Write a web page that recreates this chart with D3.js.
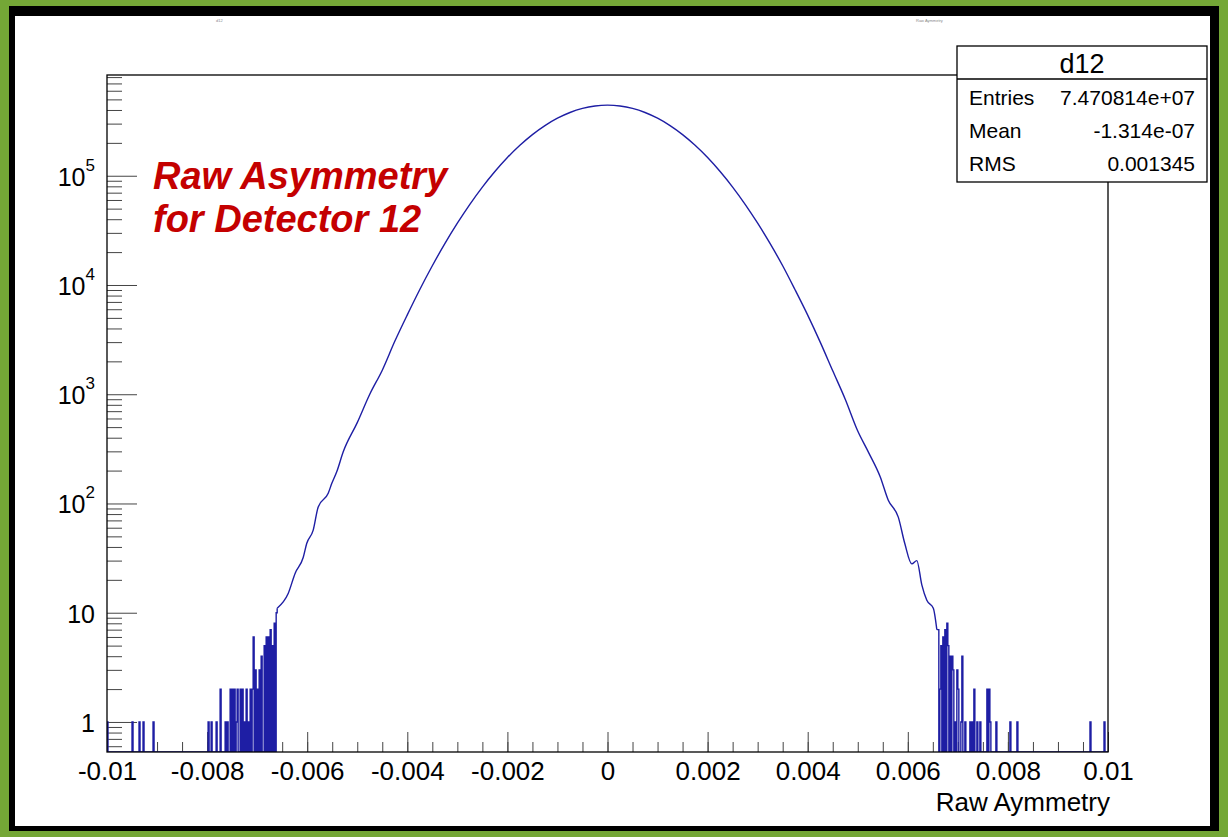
<!DOCTYPE html>
<html>
<head>
<meta charset="utf-8">
<script src="https://cdn.jsdelivr.net/npm/d3@7"></script>
<style>
html, body { margin: 0; padding: 0; background: #74a736; }
svg { display: block; font-family: "Liberation Sans", Arial, sans-serif; }
</style>
</head>
<body>
<svg id="chart" width="1228" height="837"></svg>
<script>
// histogram "d12": 1000 bins of 2e-5 from -0.01 to 0.01
var X_MIN = -0.01, X_MAX = 0.01, BIN_WIDTH = 2e-5;

// smooth part of the histogram
var curveX = [-0.0066, -0.00638, -0.00624, -0.00608, -0.00601, -0.00588, -0.00578, -0.00558, -0.00551,
    -0.00541, -0.00528, -0.0050, -0.00475, -0.0045, -0.00425, -0.0040, -0.00375, -0.0035, -0.00325,
    -0.0030, -0.00275, -0.0025, -0.00225, -0.0020, -0.00175, -0.0015, -0.00125, -0.0010, -0.00075,
    -0.0005, -0.00025, 0, 0.00025, 0.0005, 0.00075, 0.0010, 0.00125, 0.0015, 0.00175, 0.0020,
    0.00225, 0.0025, 0.00275, 0.0030, 0.00325, 0.0035, 0.00375, 0.0040, 0.00425, 0.0045, 0.00475,
    0.0050, 0.00521, 0.00545, 0.00561, 0.00581, 0.00594, 0.00608, 0.00618, 0.00628, 0.00638,
    0.00651, 0.00658];
var curveCounts = [11, 15, 23, 32, 43, 57, 93, 124, 152,
    195, 297, 550, 1000, 1660, 3050, 5330, 9100, 15000, 23900,
    36800, 54800, 78800, 109300, 146800, 190000, 237900, 287600, 336100, 379200,
    413500, 435400, 443000, 435400, 413500, 379200, 336100, 287600, 237900, 190000, 146800,
    109300, 78800, 54800, 36800, 23900, 15000, 9000, 5300, 3000, 1640, 900,
    460, 297, 175, 107, 75, 43, 28, 30, 18, 13,
    11, 7];

// sparse tail bins (all other tail bins are empty)
var tailX = [-0.01, -0.0095, -0.00936, -0.00928, -0.00908,
    -0.00798, -0.00792, -0.00782, -0.00774, -0.00764, -0.0076, -0.00754, -0.0075, -0.00746, -0.00742,
    -0.0074, -0.00734, -0.0073, -0.00726, -0.00722, -0.00718, -0.00714, -0.0071, -0.00708, -0.00704,
    -0.007, -0.00696, -0.00692, -0.00686, -0.00682, -0.00678, -0.00674, -0.0067, -0.00666, -0.00662,
    0.0066, 0.00664, 0.00666, 0.0067, 0.00674, 0.00678, 0.0068, 0.00684, 0.00688, 0.0069, 0.00694,
    0.00698, 0.007, 0.00706, 0.00708, 0.00714, 0.00724, 0.00728, 0.00732, 0.00738, 0.00744, 0.00758,
    0.00762, 0.00764, 0.00776, 0.00804, 0.00818, 0.00964, 0.00992];
var tailCounts = [1, 1, 1, 1, 1,
    1, 1, 1, 2, 1, 1, 2, 2, 2, 1,
    2, 2, 2, 1, 2, 1, 2, 2, 6, 3,
    2, 3, 4, 5, 6, 6, 7, 5, 8, 10,
    7, 2, 5, 6, 7, 8, 5, 4, 4, 3, 1,
    3, 2, 1, 4, 1, 1, 1, 2, 1, 1, 2,
    2, 1, 1, 1, 1, 1, 1];

var xTickValues = [-0.01, -0.008, -0.006, -0.004, -0.002, 0, 0.002, 0.004, 0.006, 0.008, 0.01];
var xTickLabels = ["-0.01", "-0.008", "-0.006", "-0.004", "-0.002", "0", "0.002", "0.004", "0.006", "0.008", "0.01"];
var yDecades = [1, 10, 100, 1000, 10000, 100000];
var yDecadeLabels = [["1", ""], ["10", ""], ["10", "2"], ["10", "3"], ["10", "4"], ["10", "5"]];

var statNames = ["Entries", "Mean", "RMS"];
var statValues = ["7.470814e+07", "-1.314e-07", "0.001345"];

var svg = d3.select("#chart");
var frame = {left: 107, top: 75, right: 1108, bottom: 752};
var FONT = "'Liberation Sans', Arial, sans-serif";

// green / black border and white canvas
svg.append("rect").attr("x", 9).attr("y", 6).attr("width", 1210).attr("height", 825).attr("fill", "#000");
svg.append("rect").attr("x", 15).attr("y", 16).attr("width", 1195).attr("height", 810).attr("fill", "#fff");

var x = d3.scaleLinear().domain([X_MIN, X_MAX]).range([frame.left, frame.right]);
var y = d3.scaleLog().domain([0.531, 8.36e5]).range([frame.bottom, frame.top]);

// tiny pad labels at the top
svg.append("text").attr("x", 216).attr("y", 22).attr("font-size", 4).attr("fill", "#888").text("d12");
svg.append("text").attr("x", 916).attr("y", 22).attr("font-size", 4).attr("fill", "#888").text("Raw Aymmetry");

// minor x ticks every 0.0005
var xMinor = d3.range(-20, 21).map(function (i) { return i * 0.0005; });
svg.append("g")
    .attr("transform", "translate(0," + frame.bottom + ")")
    .call(d3.axisBottom(x).tickValues(xMinor).tickSize(-10).tickSizeOuter(0).tickFormat(""))
    .call(function (g) { g.select(".domain").remove(); g.selectAll("line").attr("stroke", "#444"); });

var xAxis = svg.append("g")
    .attr("transform", "translate(0," + frame.bottom + ")")
    .call(d3.axisBottom(x).tickValues(xTickValues).tickSize(-20).tickSizeOuter(0).tickPadding(10)
        .tickFormat(function (d, i) { return xTickLabels[i]; }));
xAxis.select(".domain").remove();
xAxis.selectAll("line").attr("stroke", "#444");
xAxis.selectAll("text").attr("font-size", 26).attr("fill", "#000").attr("font-family", FONT);

// log y ticks: decades and 2..9 subdivisions
var yMinor = [];
for (var k = -1; k <= 5; k++) {
    for (var m = 2; m <= 9; m++) {
        var v = m * Math.pow(10, k);
        if (v >= y.domain()[0] && v <= y.domain()[1]) yMinor.push(v);
    }
}
svg.append("g")
    .attr("transform", "translate(" + frame.left + ",0)")
    .call(d3.axisLeft(y).tickValues(yMinor).tickSize(-15).tickSizeOuter(0).tickFormat(""))
    .call(function (g) { g.select(".domain").remove(); g.selectAll("line").attr("stroke", "#444"); });

var yAxis = svg.append("g")
    .attr("transform", "translate(" + frame.left + ",0)")
    .call(d3.axisLeft(y).tickValues(yDecades).tickSize(-30).tickSizeOuter(0).tickPadding(12).tickFormat(""));
yAxis.select(".domain").remove();
yAxis.selectAll("line").attr("stroke", "#444");
yAxis.selectAll(".tick text").each(function (d, i) {
    var t = d3.select(this).attr("font-size", 25).attr("fill", "#000").attr("dy", "0.38em")
        .attr("font-family", FONT);
    var parts = yDecadeLabels[i];
    t.append("tspan").text(parts[0]);
    if (parts[1]) {
        t.append("tspan").attr("dy", -15).attr("font-size", 17).text(parts[1]);
    }
});

// histogram outline: sparse tails as steps, bulk as a smooth line
var tailMap = {};
tailX.forEach(function (v, i) {
    tailMap[Math.round((v - X_MIN) / BIN_WIDTH)] = tailCounts[i];
});
var nBins = Math.round((X_MAX - X_MIN) / BIN_WIDTH);
var leftEnd = Math.round((curveX[0] - X_MIN) / BIN_WIDTH);
var rightStart = Math.round((curveX[curveX.length - 1] - X_MIN) / BIN_WIDTH) + 1;

function binLevel(i) {
    var c = tailMap[i] || 0;
    return c > 0 ? y(c) : frame.bottom;
}

function stepPoints(from, to) {
    var p = [];
    for (var i = from; i < to; i++) {
        p.push([x(X_MIN + i * BIN_WIDTH), binLevel(i)], [x(X_MIN + (i + 1) * BIN_WIDTH), binLevel(i)]);
    }
    return p;
}

var leftPts = [[x(X_MIN), frame.bottom]].concat(stepPoints(0, leftEnd));
leftPts.push([x(curveX[0]), y(curveCounts[0])]);
var curvePts = curveX.map(function (v, j) { return [x(v), y(curveCounts[j])]; });
var rightPts = [curvePts[curvePts.length - 1]].concat(stepPoints(rightStart, nBins));
rightPts.push([x(X_MAX), frame.bottom]);

svg.append("clipPath").attr("id", "clip").append("rect")
    .attr("x", frame.left).attr("y", frame.top)
    .attr("width", frame.right - frame.left).attr("height", frame.bottom - frame.top);

var hist = svg.append("g").attr("clip-path", "url(#clip)")
    .attr("fill", "none").attr("stroke", "#1e1ea4").attr("stroke-width", 1.4);
hist.append("path").datum(leftPts).attr("d", d3.line());
hist.append("path").datum(curvePts).attr("d", d3.line().curve(d3.curveMonotoneX));
hist.append("path").datum(rightPts).attr("d", d3.line());

// frame
svg.append("rect")
    .attr("x", frame.left).attr("y", frame.top)
    .attr("width", frame.right - frame.left).attr("height", frame.bottom - frame.top)
    .attr("fill", "none").attr("stroke", "#000").attr("stroke-width", 1.3);

// x title
svg.append("text").attr("x", 1110).attr("y", 811).attr("text-anchor", "end")
    .attr("font-size", 26).text("Raw Aymmetry");

// red annotation
var note = svg.append("text").attr("fill", "#c40000").attr("font-size", 38)
    .attr("font-weight", "bold").attr("font-style", "italic");
note.append("tspan").attr("x", 153).attr("y", 189).text("Raw Asymmetry");
note.append("tspan").attr("x", 153).attr("y", 232).text("for Detector 12");

// stats box
var box = {left: 957, top: 46, right: 1207, bottom: 182};
svg.append("rect").attr("x", box.left).attr("y", box.top)
    .attr("width", box.right - box.left).attr("height", box.bottom - box.top)
    .attr("fill", "#fff").attr("stroke", "#000").attr("stroke-width", 1.3);
svg.append("line").attr("x1", box.left).attr("x2", box.right).attr("y1", 79).attr("y2", 79)
    .attr("stroke", "#000").attr("stroke-width", 1.3);
svg.append("text").attr("x", (box.left + box.right) / 2).attr("y", 73).attr("text-anchor", "middle")
    .attr("font-size", 27).text("d12");
statNames.forEach(function (name, i) {
    var by = 105 + i * 33;
    svg.append("text").attr("x", 969).attr("y", by).attr("font-size", 21).text(name);
    svg.append("text").attr("x", 1195).attr("y", by).attr("text-anchor", "end")
        .attr("font-size", 21).text(statValues[i]);
});
</script>
</body>
</html>
